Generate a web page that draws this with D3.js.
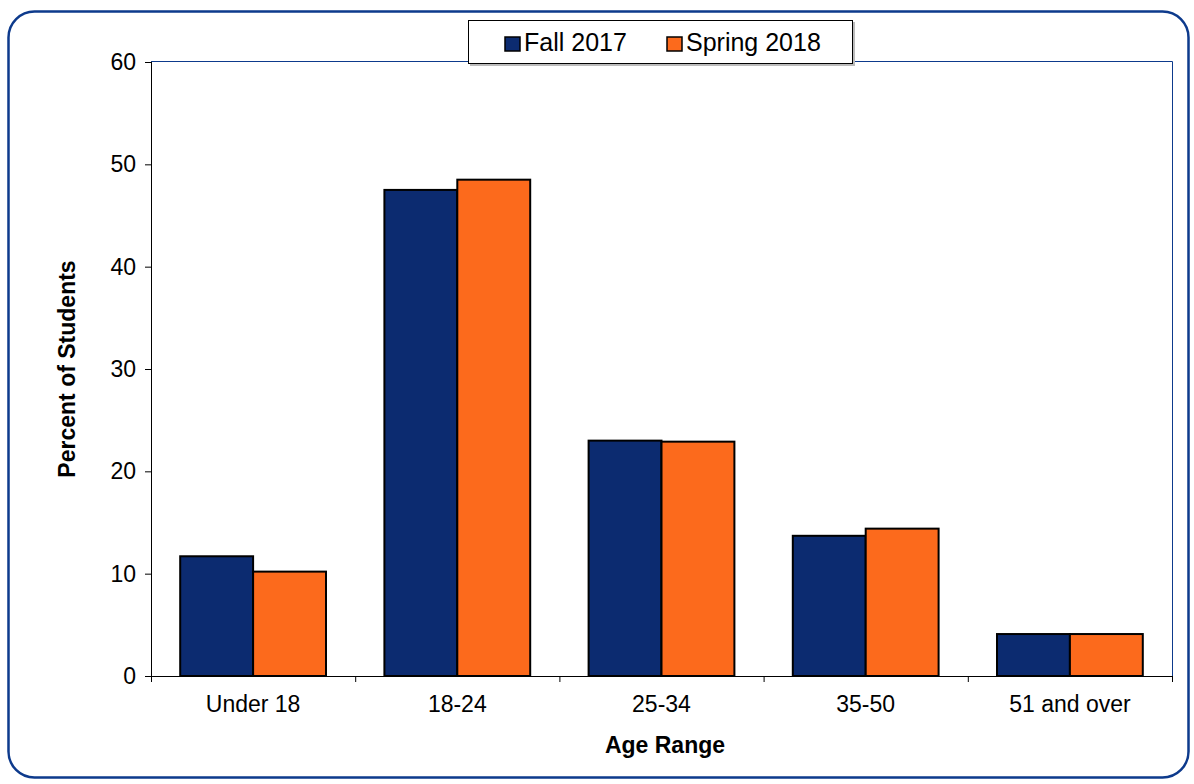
<!DOCTYPE html>
<html>
<head>
<meta charset="utf-8">
<style>
  body{margin:0;background:#fff;}
  svg{display:block;font-family:"Liberation Sans",Arial,sans-serif;}
</style>
<script src="https://cdn.jsdelivr.net/npm/d3@7"></script>
</head>
<body>
<svg id="chart" width="1194" height="784"></svg>
<script>
var categories = ["Under 18", "18-24", "25-34", "35-50", "51 and over"];
var seriesNames = ["Fall 2017", "Spring 2018"];
var fall2017 = [11.7, 47.5, 23.0, 13.7, 4.1];
var spring2018 = [10.2, 48.5, 22.9, 14.4, 4.1];
var yTicks = [0, 10, 20, 30, 40, 50, 60];
var colors = ["#0c2b70", "#fc6a1c"];

var svg = d3.select("#chart");
var pLeft = 151, pRight = 1172, pTop = 62, pBottom = 676;

// outer rounded frame
svg.append("rect")
  .attr("x", 8.5).attr("y", 11.5)
  .attr("width", 1180).attr("height", 766)
  .attr("rx", 26).attr("ry", 26)
  .attr("fill", "#fff").attr("stroke", "#0d3a8c").attr("stroke-width", 2.5);

var x = d3.scaleBand().domain(categories).range([pLeft, pRight]).paddingInner(0.286).paddingOuter(0.143);
var xs = d3.scaleBand().domain(seriesNames).range([0, x.bandwidth()]);
var y = d3.scaleLinear().domain([0, 60]).range([pBottom, pTop]);

// plot area frame (top/right)
svg.append("path")
  .attr("d", "M" + pLeft + "," + (pTop - 0.5) + "H" + (pRight + 0.5) + "V" + pBottom)
  .attr("fill", "none").attr("stroke", "#0d3a8c").attr("stroke-width", 1);

var rows = categories.map(function(c, i){ return {cat: c, vals: [fall2017[i], spring2018[i]]}; });

var g = svg.selectAll("g.grp").data(rows).enter().append("g")
  .attr("transform", function(d){ return "translate(" + x(d.cat) + ",0)"; });
g.selectAll("rect").data(function(d){ return d.vals.map(function(v, j){ return {v: v, s: seriesNames[j], j: j}; }); })
  .enter().append("rect")
  .attr("x", function(d){ return xs(d.s); })
  .attr("y", function(d){ return y(d.v); })
  .attr("width", xs.bandwidth())
  .attr("height", function(d){ return pBottom - y(d.v); })
  .attr("fill", function(d){ return colors[d.j]; })
  .attr("stroke", "#000").attr("stroke-width", 2);

// y axis
var yAxis = svg.append("g").attr("transform", "translate(" + pLeft + ",0)")
  .call(d3.axisLeft(y).tickValues(yTicks).tickSize(6).tickPadding(9));
yAxis.select(".domain").attr("stroke", "#000").attr("d", "M0.5," + pTop + "V" + pBottom);
yAxis.selectAll("text").attr("font-size", 23).attr("fill", "#000").attr("font-family", "Liberation Sans, Arial");

// x axis: ticks at category boundaries
var xAxis = svg.append("g").attr("transform", "translate(0," + pBottom + ")");
xAxis.append("line").attr("x1", pLeft - 6).attr("x2", pRight).attr("y1", 0.5).attr("y2", 0.5).attr("stroke", "#000");
var step = (pRight - pLeft) / categories.length;
xAxis.selectAll("line.tk").data(d3.range(categories.length + 1)).enter().append("line")
  .attr("x1", function(i){ return pLeft + i * step + 0.5; })
  .attr("x2", function(i){ return pLeft + i * step + 0.5; })
  .attr("y1", 0).attr("y2", 6).attr("stroke", "#000");
xAxis.selectAll("text").data(categories).enter().append("text")
  .attr("x", function(d){ return x(d) + x.bandwidth() / 2; })
  .attr("y", 36).attr("text-anchor", "middle").attr("font-size", 23).attr("fill", "#000")
  .text(function(d){ return d; });

// axis titles
svg.append("text").attr("x", 665).attr("y", 753).attr("text-anchor", "middle")
  .attr("font-size", 23).attr("font-weight", "bold").text("Age Range");
svg.append("text").attr("transform", "translate(75,369) rotate(-90)").attr("text-anchor", "middle")
  .attr("font-size", 23).attr("font-weight", "bold").text("Percent of Students");

// legend
var lg = svg.append("g");
lg.append("rect").attr("x", 470).attr("y", 22).attr("width", 385).attr("height", 44).attr("fill", "#bbb");
lg.append("rect").attr("x", 468.5).attr("y", 20.5).attr("width", 384).attr("height", 43)
  .attr("fill", "#fff").attr("stroke", "#000").attr("stroke-width", 1);
var legX = [505, 667];
seriesNames.forEach(function(s, i){
  lg.append("rect").attr("x", legX[i]).attr("y", 37).attr("width", 15).attr("height", 14)
    .attr("fill", colors[i]).attr("stroke", "#000").attr("stroke-width", 1.5);
  lg.append("text").attr("x", legX[i] + 19).attr("y", 51).attr("font-size", 25).text(s);
});
</script>
</body>
</html>
